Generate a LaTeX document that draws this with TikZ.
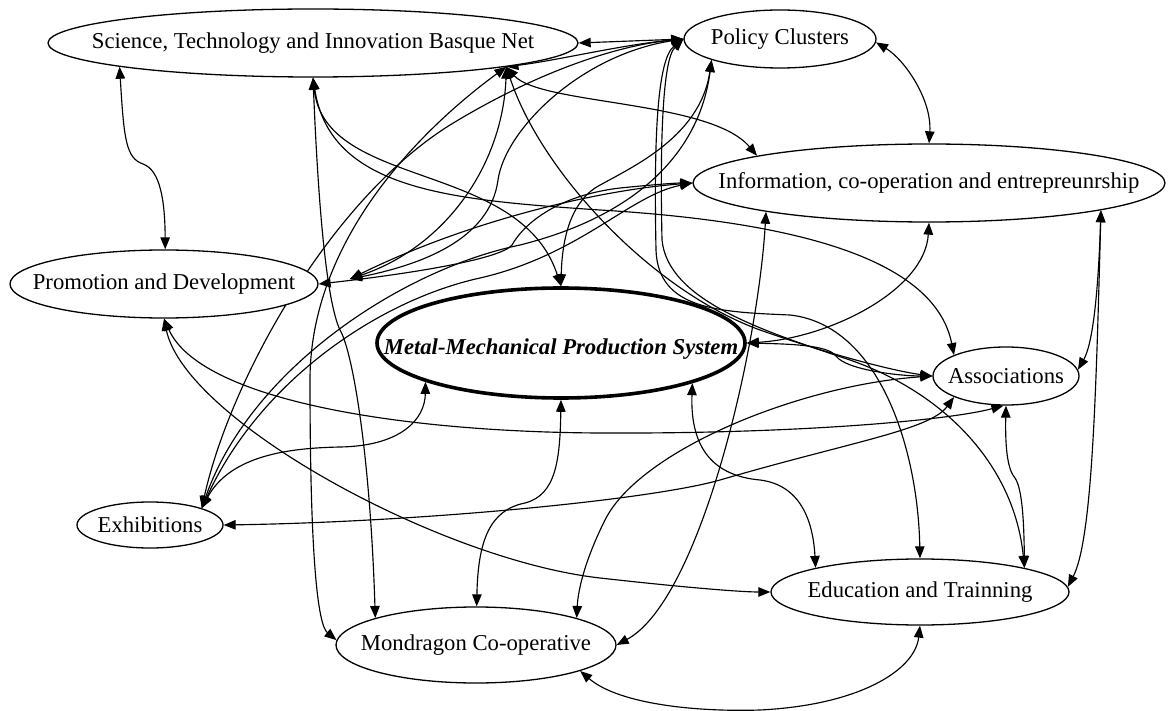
\documentclass[tikz,border=0pt]{standalone}
\usepackage{fontspec}
\setmainfont{Liberation Serif}
\usetikzlibrary{arrows.meta,shapes.geometric}
% zero-width label so the ellipse size is fixed by minimum width/height only
\newcommand\eltext[1]{\makebox[0pt]{#1}}
\pgfdeclarelayer{bg}
\pgfdeclarelayer{edges}
\pgfsetlayers{bg,edges,main}
\begin{document}
\begin{tikzpicture}[x=1pt,y=-1pt,
  box/.style={ellipse,draw,fill=white,line width=1.3pt,inner sep=0pt,
    font=\fontsize{22.7}{27}\selectfont},
  core/.style={box,line width=3.6pt,font=\fontsize{22.7}{27}\selectfont\bfseries\itshape},
  link/.style={line width=1.15pt,
    {Triangle[length=12pt,width=9.5pt]}-{Triangle[length=12pt,width=9.5pt]}}]

\begin{pgfonlayer}{bg}
  \fill[white] (0,0) rectangle (1170,711);
\end{pgfonlayer}
\useasboundingbox (0,0) rectangle (1170,711);

% actors
\node[box,minimum width=530pt,minimum height=68pt] (sti) at (313,43)
  {\eltext{Science, Technology and Innovation Basque Net}};
\node[box,minimum width=192pt,minimum height=58pt] (pol) at (780,39)
  {\eltext{Policy Clusters}};
\node[box,minimum width=472pt,minimum height=78pt] (inf) at (929,183)
  {\eltext{Information, co-operation and entrepreunrship}};
\node[box,minimum width=308pt,minimum height=68pt] (pro) at (164,284)
  {\eltext{Promotion and Development}};
\node[core,minimum width=368pt,minimum height=110pt] (mmp) at (561,343)
  {\eltext{\raisebox{-11.5pt}[0pt][0pt]{Metal-Mechanical Production System}}};
\node[box,minimum width=146pt,minimum height=58pt] (ass) at (1006,376)
  {\eltext{Associations}};
\node[box,minimum width=146pt,minimum height=46pt] (exh) at (150,525)
  {\eltext{Exhibitions}};
\node[box,minimum width=280pt,minimum height=76pt] (mon) at (476,645)
  {\eltext{Mondragon Co-operative}};
\node[box,minimum width=298pt,minimum height=66pt] (edu) at (920,592)
  {\eltext{Education and Trainning}};
\coordinate (pcin) at (350,279);

\begin{pgfonlayer}{edges}
% Science-Technology net
\draw[link] (sti.187) .. controls (124,140) and (126,158) .. (143,164)
  .. controls (160,170) and (165,200) .. (pro.88);
\draw[link] (sti.0) -- (pol.180);
\draw[link] (sti.270) .. controls (318,200) and (326,300) .. (340,330)
  .. controls (352,350) and (370,450) .. (mon.165);
\draw[link] (sti.270) .. controls (325,190) and (520,160) .. (mmp.90);
\draw[link] (sti.270) .. controls (330,190) and (450,200) .. (600,210)
  .. controls (800,222) and (935,260) .. (ass.158);
\draw[link] (sti.353) .. controls (420,130) and (310,240) .. (310,380)
  .. controls (310,560) and (318,625) .. (mon.178);
\draw[link] (sti.353) .. controls (540,105) and (710,100) .. (inf.171);
\draw[link] (sti.353) .. controls (503,160) and (450,245) .. (pcin);
\draw[link] (sti.353) .. controls (540,170) and (650,290) .. (760,330)
  .. controls (840,358) and (900,372) .. (ass.180);
\draw[link] (sti.353) .. controls (560,60) and (620,45) .. (pol.180);

% Policy clusters
\draw[link] (pol.358) .. controls (905,60) and (932,100) .. (inf.90);
\draw[link] (pol.180) .. controls (580,55) and (505,130) .. (498,180)
  .. controls (490,240) and (420,265) .. (pcin);
\draw[link] (pol.180) .. controls (656,60) and (654,150) .. (656,250)
  .. controls (658,310) and (720,312) .. (790,315)
  .. controls (880,325) and (918,450) .. (edu.90);
\draw[link] (pol.180) .. controls (662,60) and (660,150) .. (662,240)
  .. controls (668,300) and (760,330) .. (850,360)
  .. controls (950,395) and (1015,470) .. (edu.13);
\draw[link] (pol.197) .. controls (700,140) and (625,170) .. (595,188)
  .. controls (570,205) and (562,240) .. (mmp.90);

% Information, co-operation and entrepreneurship
\draw[link] (pro.0) .. controls (400,275) and (500,260) .. (512,245)
  .. controls (525,222) and (560,195) .. (620,188)
  .. controls (650,185) and (675,183) .. (inf.180);
\draw[link] (inf.180) .. controls (600,190) and (470,220) .. (pcin);
\draw[link] (inf.190) .. controls (758,350) and (700,600) .. (mon.0);
\draw[link] (inf.270) .. controls (925,290) and (830,338) .. (mmp.0);
\draw[link] (inf.351) .. controls (1098,300) and (1092,345) .. (ass.5);
\draw[link] (inf.351) .. controls (1096,400) and (1092,540) .. (edu.2);

% Associations
\draw[link] (ass.270) .. controls (1005,450) and (1008,470) .. (1015,478)
  .. controls (1022,488) and (1024,520) .. (edu.13);
\draw[link] (mmp.0) .. controls (790,344) and (828,345) .. (836,356)
  .. controls (846,370) and (900,376) .. (ass.180);
\draw[link] (ass.180) .. controls (800,385) and (640,450) .. (605,520)
  .. controls (585,560) and (578,590) .. (mon.15);

% Promotion and Development
\draw[link] (pro.270) .. controls (200,400) and (400,432) .. (600,433)
  .. controls (800,434) and (950,420) .. (ass.265);
\draw[link] (pro.270) .. controls (185,420) and (440,560) .. (600,578)
  .. controls (680,587) and (740,592) .. (edu.180);

% Exhibitions
\draw[link] (exh.18) .. controls (230,455) and (290,448) .. (340,447)
  .. controls (400,446) and (425,420) .. (mmp.196);
\draw[link] (exh.0) .. controls (420,522) and (650,500) .. (720,480)
  .. controls (850,442) and (930,430) .. (ass.202);
\draw[link] (exh.18) .. controls (230,380) and (330,200) .. (450,125)
  .. controls (540,70) and (620,45) .. (pol.180);
\draw[link] (exh.18) .. controls (250,370) and (400,270) .. (520,245)
  .. controls (640,215) and (700,150) .. (pol.197);
\draw[link] (exh.18) .. controls (260,380) and (380,300) .. (480,278)
  .. controls (580,255) and (630,195) .. (inf.180);

% Production system, Mondragon, Education
\draw[link] (mmp.270) .. controls (560,460) and (556,495) .. (525,503)
  .. controls (490,510) and (478,540) .. (mon.89);
\draw[link] (mmp.343) .. controls (690,450) and (715,476) .. (760,480)
  .. controls (800,485) and (813,520) .. (edu.167);
\draw[link] (mon.346) .. controls (620,705) and (700,712) .. (760,710)
  .. controls (860,705) and (915,670) .. (edu.270);
\end{pgfonlayer}
\end{tikzpicture}
\end{document}
